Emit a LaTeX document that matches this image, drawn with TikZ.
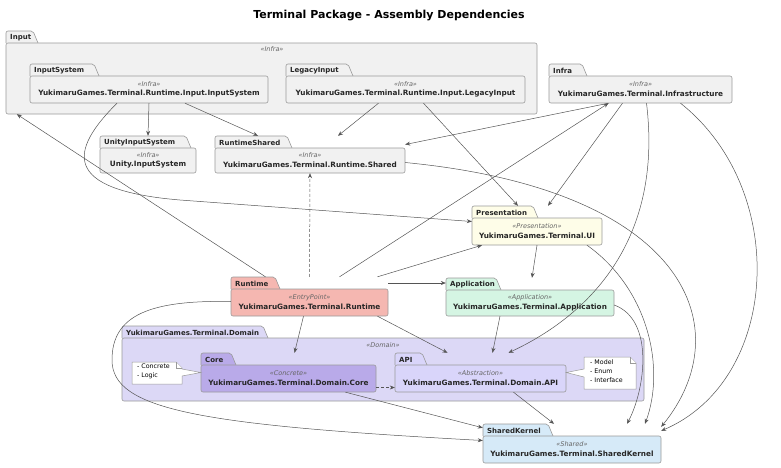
\documentclass[tikz,border=0pt]{standalone}
\usepackage{fontspec}
\setmainfont{DejaVu Sans}
\usetikzlibrary{arrows.meta,fit,calc}

\definecolor{infrafill}{HTML}{F1F1F1}
\definecolor{pkgborder}{HTML}{9A9A9A}
\definecolor{linecol}{HTML}{555555}
\definecolor{presfill}{HTML}{FEFDE8}
\definecolor{runfill}{HTML}{F5B7B1}
\definecolor{appfill}{HTML}{D5F5E3}
\definecolor{domfill}{HTML}{DCD8F6}
\definecolor{corefill}{HTML}{B9AAE9}
\definecolor{apifill}{HTML}{D9D5FA}
\definecolor{sharedfill}{HTML}{D6EAF8}
\definecolor{stereocol}{HTML}{666666}

% package: name, x0, tab top, x1, bottom, tab width, fill, tab label
\newcommand{\pkg}[8]{%
  \draw[pkgline,fill=#7] (#2,#3+12) -- (#2,#3) -- (#2+#6,#3) -- (#2+#6+5,#3+12);
  \draw[pkgline,fill=#7] (#2,#3+12) rectangle (#4,#5);
  \node[tabtext] (#1-tab) at (#2+4,#3+6.5) {#8};
  \node[fit={(#2,#3) (#4,#5)}, inner sep=0pt] (#1) {};
}
% stereotype and assembly name inside a package
\newcommand{\pkglabel}[3]{%
  \node[stereo] (#1-st) at ([yshift=-1pt]#1.center) {«#2»};
  \node[fullname] (#1-name) at ([yshift=-10.5pt]#1.center) {#3};
}

\begin{document}
\begin{tikzpicture}[x=1pt,y=-1pt,
  pkgline/.style={draw=pkgborder,line width=0.6pt,rounded corners=2pt},
  tabtext/.style={anchor=west,inner sep=0pt,font=\fontsize{7}{8}\selectfont\bfseries,text=black!85},
  stereo/.style={inner sep=0pt,font=\fontsize{6.5}{7.5}\selectfont\itshape,text=stereocol},
  fullname/.style={inner sep=0pt,font=\fontsize{7.3}{8.5}\selectfont\bfseries,text=black!85},
  notebox/.style={draw=pkgborder,line width=0.5pt,fill=white},
  notetext/.style={anchor=north west,inner sep=0pt,align=left,font=\fontsize{6.3}{9}\selectfont},
  dep/.style={draw=linecol,line width=0.5pt,-{Stealth[length=5pt,width=4pt]}},
  impl/.style={dep,dash pattern=on 3pt off 2pt}]
\useasboundingbox (0,0) rectangle (781,467);

\node[font=\fontsize{11}{13}\selectfont\bfseries] (title) at (389,16) {Terminal Package - Assembly Dependencies};

% input side
\pkg{inputpkg}{6}{31}{537}{114}{27}{infrafill}{Input}
\node[stereo] (inputpkg-st) at (272,49) {«Infra»};
\pkg{inputsys}{30}{64}{268}{103}{64}{infrafill}{InputSystem}
\pkglabel{inputsys}{Infra}{YukimaruGames.Terminal.Runtime.Input.InputSystem}
\pkg{legacy}{286}{64}{525}{103}{62}{infrafill}{LegacyInput}
\pkglabel{legacy}{Infra}{YukimaruGames.Terminal.Runtime.Input.LegacyInput}
\pkg{infra}{549}{64}{732}{103}{33}{infrafill}{Infra}
\pkglabel{infra}{Infra}{YukimaruGames.Terminal.Infrastructure}
\pkg{unity}{100}{136}{196}{173}{86}{infrafill}{UnityInputSystem}
\pkglabel{unity}{Infra}{Unity.InputSystem}
\pkg{rtshared}{215}{136}{405}{173}{72}{infrafill}{RuntimeShared}
\pkglabel{rtshared}{Infra}{YukimaruGames.Terminal.Runtime.Shared}

% presentation, runtime, application
\pkg{present}{472}{206}{602}{245}{61}{presfill}{Presentation}
\pkglabel{present}{Presentation}{YukimaruGames.Terminal.UI}
\pkg{runtime}{231}{277}{388}{316}{44}{runfill}{Runtime}
\pkglabel{runtime}{EntryPoint}{YukimaruGames.Terminal.Runtime}
\pkg{app}{446}{278}{614}{316}{50}{appfill}{Application}
\pkglabel{app}{Application}{YukimaruGames.Terminal.Application}

% domain
\pkg{domain}{122}{326}{644}{401}{141}{domfill}{YukimaruGames.Terminal.Domain}
\node[stereo] (domain-st) at (383,345) {«Domain»};
\pkg{core}{201}{353}{376}{392}{30}{corefill}{Core}
\pkglabel{core}{Concrete}{YukimaruGames.Terminal.Domain.Core}
\pkg{api}{395}{353}{566}{392}{27}{apifill}{API}
\pkglabel{api}{Abstraction}{YukimaruGames.Terminal.Domain.API}

\pkg{shared}{483}{424}{661}{463}{65}{sharedfill}{SharedKernel}
\pkglabel{shared}{Shared}{YukimaruGames.Terminal.SharedKernel}

% notes
\draw[notebox] (132,362) -- (176,362) -- (182,368) -- (182,369) -- (core.west) -- (182,376) -- (182,384) -- (132,384) -- cycle;
\draw[notebox] (176,362) -- (176,368) -- (182,368);
\node[notetext] (corenote) at (137,363.5) {- Concrete\\- Logic};
\draw[notebox] (584,357) -- (630,357) -- (636,363) -- (636,389) -- (584,389) -- (584,377) -- (api.east) -- (584,369) -- cycle;
\draw[notebox] (630,357) -- (630,363) -- (636,363);
\node[notetext] (apinote) at (590,359.5) {- Model\\- Enum\\- Interface};

% dependencies
\draw[dep] (inputsys.south) -- (unity.north);
\draw[dep] ([xshift=36pt]inputsys.south) -- ([xshift=-52pt]rtshared.north);
\draw[dep] ([xshift=-32pt]inputsys.south) .. controls (70,150) and (60,190) .. (180,200) -- ([yshift=4pt]present.west);
\draw[dep] ([xshift=-27pt]legacy.south) -- ([xshift=28pt]rtshared.north);
\draw[dep] ([xshift=18pt]legacy.south) -- ([xshift=-19pt]present.north);
\draw[dep] ([xshift=-32pt]infra.south) -- ([yshift=10pt]rtshared.east);
\draw[dep] ([xshift=-18pt]infra.south) -- ([xshift=11pt]present.north);
\draw[dep] ([xshift=6pt]infra.south) .. controls (662,230) and (600,310) .. ([xshift=28pt]api.north);
\draw[dep] ([xshift=40pt]infra.south) .. controls (790,190) and (780,380) .. ([yshift=-7pt]shared.north east);
\draw[dep] ([yshift=-8pt]rtshared.east) .. controls (690,190) and (740,330) .. ([yshift=-3pt]shared.north east);

\draw[dep] ([xshift=-44pt]runtime.north) -- ([xshift=11pt]inputpkg.south west);
\draw[impl] (runtime.north) -- (rtshared.south);
\draw[dep] ([xshift=30pt]runtime.north) -- ([xshift=-32pt]infra.south);
\draw[dep] ([xshift=68pt]runtime.north) -- ([xshift=-55pt]present.south);
\draw[dep] ([yshift=13.5pt]runtime.east) -- ([yshift=14pt]app.west);
\draw[dep] ([xshift=-6pt]runtime.south) -- ([xshift=6pt]core.north);
\draw[dep] ([xshift=68pt]runtime.south) -- ([xshift=-33pt]api.north);
\draw[dep] ([yshift=-5pt]runtime.west) .. controls (150,300) and (112,315) .. (112,360) .. controls (112,410) and (200,425) .. ([yshift=3pt]shared.west);

\draw[dep] (present.south) -- ([xshift=2pt]app.north);
\draw[dep] ([xshift=50pt]present.south) .. controls (650,290) and (665,370) .. ([xshift=73pt]shared.north);
\draw[dep] ([xshift=-30pt]app.south) -- ([xshift=12pt]api.north);
\draw[dep] ([yshift=-8pt]app.east) .. controls (655,320) and (645,390) .. ([xshift=55pt]shared.north);

\draw[impl] ([yshift=-15pt]core.east) -- ([yshift=-15pt]api.west);
\draw[dep] ([xshift=57pt]core.south) -- ([yshift=-4pt]shared.north west);
\draw[dep] ([xshift=33pt]api.south) -- ([xshift=-18pt]shared.north);
\end{tikzpicture}
\end{document}
